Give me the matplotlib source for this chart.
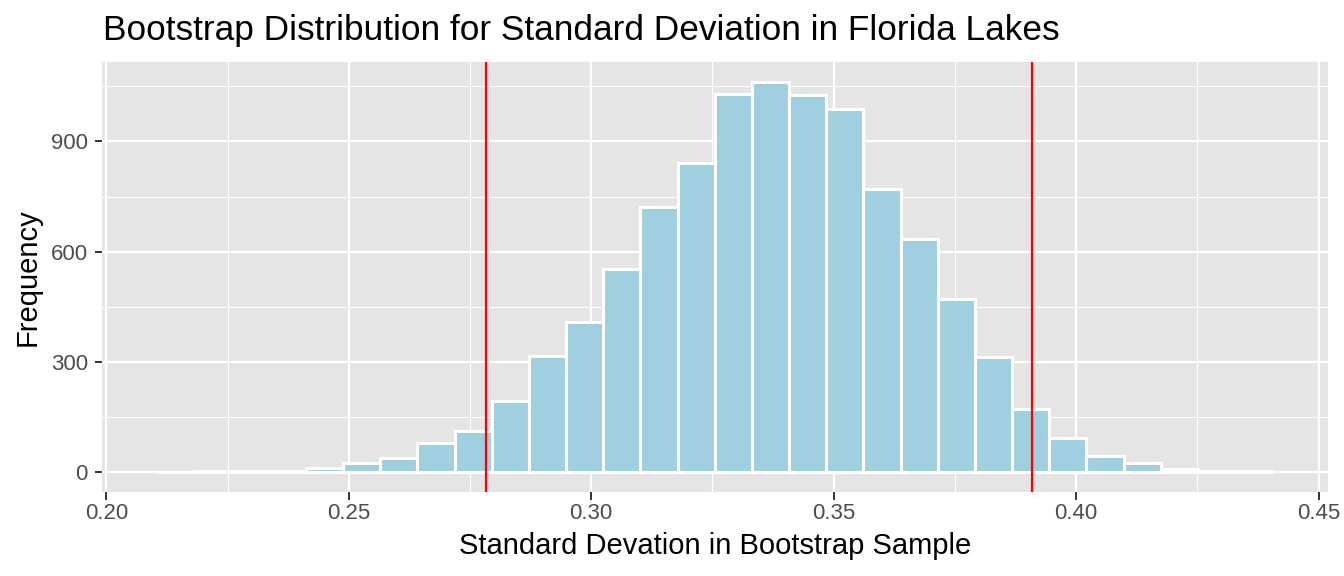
import numpy as np
import matplotlib
matplotlib.use("Agg")
import matplotlib.pyplot as plt

# ---- data ----
bin_start = 0.2105
bin_width = 0.007665
counts = [1, 3, 2, 3, 10, 24, 39, 79, 112, 195,
          315, 409, 554, 722, 842, 1030, 1063, 1025, 988, 771,
          635, 472, 314, 172, 94, 44, 24, 8, 2, 4]
ci_lines = [0.2783, 0.3908]
x_ticks = [0.20, 0.25, 0.30, 0.35, 0.40, 0.45]
x_tick_labels = ["0.20", "0.25", "0.30", "0.35", "0.40", "0.45"]
y_ticks = [0, 300, 600, 900]
y_tick_labels = ["0", "300", "600", "900"]
title = "Bootstrap Distribution for Standard Deviation in Florida Lakes"
xlabel = "Standard Devation in Bootstrap Sample"
ylabel = "Frequency"

plt.rcParams['font.family'] = ['Liberation Sans', 'DejaVu Sans']

W, H = 1344, 576
fig = plt.figure(figsize=(W / 100, H / 100), dpi=100)
px_l, px_r, px_t, px_b = 101.5, 1328, 62, 491.7
ax = fig.add_axes([px_l / W, 1 - px_b / H, (px_r - px_l) / W, (px_b - px_t) / H])

ax.set_facecolor('#E5E5E5')
for s in ax.spines.values():
    s.set_visible(False)

n = len(counts)
edges = bin_start + bin_width * np.arange(n + 1)
lo, hi = edges[0], edges[-1]
rng = hi - lo
ax.set_xlim(lo - 0.05 * rng, hi + 0.05 * rng)
ymax = max(counts)
ax.set_ylim(-0.05 * ymax, 1.05 * ymax)

# grid
ax.set_xticks(x_ticks)
ax.set_xticklabels(x_tick_labels)
ax.set_yticks(y_ticks)
ax.set_yticklabels(y_tick_labels)
minor_x = [(x_ticks[i] + x_ticks[i + 1]) / 2 for i in range(len(x_ticks) - 1)]
minor_y = [(y_ticks[i] + y_ticks[i + 1]) / 2 for i in range(len(y_ticks) - 1)] + [y_ticks[-1] + 150]
ax.set_xticks(minor_x, minor=True)
ax.set_yticks(minor_y, minor=True)
ax.grid(which='major', color='white', linewidth=1.6)
ax.grid(which='minor', color='white', linewidth=0.8)
ax.set_axisbelow(True)
ax.tick_params(which='minor', length=0)
ax.tick_params(which='major', length=5.4, width=1.4, color='#333333',
               labelsize=16, labelcolor='#4D4D4D')
ax.tick_params(axis='x', pad=2.5)
ax.tick_params(axis='y', pad=4.5)

ax.bar(edges[:-1], counts, width=bin_width, align='edge',
       color='#A0CFE0', edgecolor='white', linewidth=2.2, zorder=2)

for v in ci_lines:
    ax.axvline(v, color='#FF0000', linewidth=1.6, zorder=3)

fig.text((px_l + px_r) / 2 / W, 1 - 546 / H, xlabel, fontsize=21, color='black',
         ha='center', va='center')
fig.text(28 / W, 1 - ((px_t + px_b) / 2) / H, ylabel, fontsize=21, color='black',
         ha='center', va='center', rotation=90)
fig.text(px_l / W + 0.001, 1 - 40 / H, title, fontsize=25.4, ha='left', va='baseline', color='black')

fig.savefig("out.png", dpi=100)
